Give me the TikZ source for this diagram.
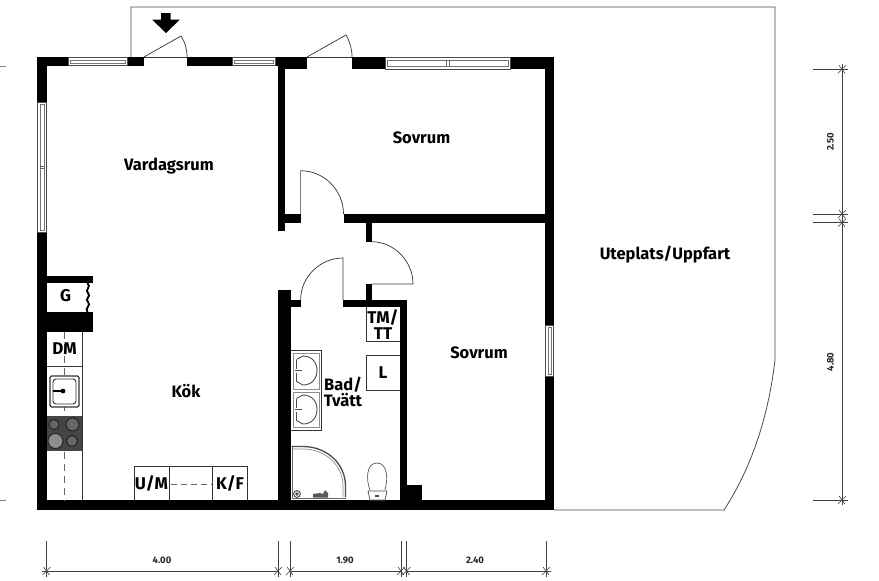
\documentclass[tikz,border=0pt]{standalone}
\usepackage{fontspec}
\setmainfont{Fira Sans}
\definecolor{hob}{gray}{0.27}
\tikzset{
  wall/.style={fill=black,draw=none},
  thin line/.style={draw=black!80,line width=0.7pt},
  outline/.style={draw=black!70,line width=0.8pt},
  room/.style={font=\fontsize{16.5}{15.5}\selectfont\bfseries,align=center,inner sep=0pt},
  unit/.style={font=\fontsize{17}{15.5}\selectfont\bfseries,align=center,inner sep=0pt},
  dimtext/.style={font=\fontsize{9.5}{10}\selectfont\bfseries,text=black!85,inner sep=0pt},
  dimline/.style={draw=black!75,line width=0.8pt},
  winframe/.style={draw=black!70,fill=white,line width=0.7pt},
  winglass/.style={draw=black!55,line width=0.6pt,fill=white},
}
\newcommand{\hwin}[4]{% x1 x2 y1 y2
  \path[winframe] (#1,#3) rectangle (#2,#4);
  \path[winglass] (#1+2,#3+2.6) rectangle (#2-2,#4-2.6);
}
\newcommand{\vwin}[4]{% x1 x2 y1 y2
  \path[winframe] (#1,#3) rectangle (#2,#4);
  \path[winglass] (#1+2.6,#3+2) rectangle (#2-2.6,#4-2);
}
\newcommand{\slashtick}[2]{\draw[dimline,line width=0.6pt] (#1-4,#2+4) -- (#1+4,#2-4) (#1-3,#2-4) -- (#1+3,#2+4);}
\begin{document}
\begin{tikzpicture}[x=1pt,y=-1pt]
\useasboundingbox[fill=white] (0,0) rectangle (879,581);

% terrace outline
\draw[outline] (131,57) -- (131,7) -- (775,7) -- (775,360)
  .. controls (768,420) and (750,470) .. (724,510) -- (554,510);

% outer walls
\path[wall] (37,57) rectangle (144,66);
\path[wall] (187,57) rectangle (307,66);
\path[wall] (278,57) rectangle (307,69);
\path[wall] (352,57) rectangle (554,69);
\path[wall] (37,57) rectangle (47,510);
\path[wall] (545,57) rectangle (554,510);
\path[wall] (37,500) rectangle (554,510);

% windows
\hwin{68}{127}{57.5}{65.5}
\hwin{232}{275}{57.5}{65.5}
\hwin{385}{510}{57.5}{69}
\draw[black!60,line width=0.6pt] (446,60) -- (446,66) (449,60) -- (449,66);
\vwin{37.5}{46.5}{102}{232}
\draw[black!60,line width=0.6pt] (40,166) -- (44,166) (40,168) -- (44,168);
\vwin{545.5}{553.5}{325}{376}

% inner walls
\path[wall] (278,66) rectangle (285,231);
\path[wall] (278,214) rectangle (300.6,223);
\path[wall] (343.5,214) rectangle (545,223);
\path[wall] (365.6,223) rectangle (371.6,242);
\path[wall] (365.6,284) rectangle (371.6,301);
\path[wall] (343,300) rectangle (406.5,307);
\path[wall] (400,300) rectangle (406.5,500);
\path[wall] (278,290) rectangle (290.5,500);
\path[wall] (278,300) rectangle (300.6,307);
\path[wall] (400,485) rectangle (422,500);

% doors
\draw[thin line] (144,57) -- (187,57);
\draw[thin line] (144,57) -- (181,36) .. controls (185,42) and (187,49) .. (187,57);
\draw[thin line] (307,57) -- (352,57);
\draw[thin line] (307,57) -- (346,35) .. controls (350,42) and (352,49) .. (352,57);
\draw[thin line] (300.6,214) -- (300.6,170.7) .. controls (324,170.7) and (343.5,190) .. (343.5,214);
\draw[thin line] (371.6,284) -- (413,284) .. controls (413,261) and (394,241.7) .. (371.6,241.7);
\draw[thin line] (343,300) -- (343,258) .. controls (320,258) and (300.6,277) .. (300.6,300);

% entry arrow
\path[fill=black] (161,13) -- (170.5,13) -- (170.5,19.5) -- (180,19.5) -- (166,33) -- (152,19.5) -- (161,19.5) -- cycle;

% G cupboard and chimney
\path[wall] (47,276) rectangle (93,283);
\path[wall] (37,312) rectangle (93,331.5);
\draw[black,line width=1.8pt] (87.5,283) .. controls (92,287) and (84,290) .. (88,293)
  .. controls (92,296) and (84,299) .. (88,302) .. controls (92,305) and (84,308) .. (87.5,312);

% kitchen
\draw[thin line] (82,331.5) -- (82,500);
\draw[thin line] (47,366) -- (82,366);
\draw[black!60,line width=0.8pt,dash pattern=on 7pt off 5pt] (64,331.5) -- (64,500);
\path[fill=hob] (47,416) rectangle (82,451);
\draw[fill=black!60,draw=black!90,line width=0.8pt] (54,424.5) circle (5);
\draw[fill=black!60,draw=black!90,line width=0.8pt] (72.5,424.5) circle (6.5);
\draw[fill=black!45,draw=black!90,line width=0.8pt] (55.5,441) circle (7.5);
\draw[fill=black!60,draw=black!90,line width=0.8pt] (72,441) circle (5.5);
% sink
\draw[black!80,line width=1.2pt,fill=white,rounded corners=1.5pt] (50,376) rectangle (79,407);
\draw[black!80,line width=0.9pt,rounded corners=3pt] (53,379) rectangle (76,404);
\draw[black,line width=1.1pt] (53,391) -- (63,391);
\path[fill=black] (63,391) circle (2.4);

% kitchen units
\draw[thin line] (134,500) -- (134,466) -- (247,466) -- (247,500);
\draw[thin line] (169,466) -- (169,500) (212.5,466) -- (212.5,500);
\draw[black!60,line width=0.8pt,dash pattern=on 6pt off 4pt] (171,484) -- (212,484);

% bathroom units
\draw[thin line] (366,307) -- (366,341.5) -- (400,341.5);
\draw[thin line] (400,355.5) -- (366,355.5) -- (366,390) -- (400,390);
\draw[thin line] (291,350.5) -- (321,350.5) -- (321,430) -- (291,430);
\draw[black!45,line width=0.6pt] (293,353) rectangle (319,389) (293,392) rectangle (319,427.5);
\foreach \cy in {370.5,409.5}{
  \draw[black!70,line width=0.9pt] (296.5,\cy-11) -- (303,\cy-14.5)
    .. controls (312,\cy-14.5) and (317,\cy-8) .. (317,\cy)
    .. controls (317,\cy+8) and (312,\cy+14.5) .. (303,\cy+14.5) -- (296.5,\cy+11);
  \draw[black!70,line width=0.8pt] (296.5,\cy-11) -- (296.5,\cy-2) (296.5,\cy+2) -- (296.5,\cy+11);
  \draw[black!70,line width=1.2pt] (295,\cy) -- (302,\cy);
}
% shower
\draw[black!60,line width=0.9pt] (292,446) -- (292,498) -- (346,498);
\draw[black!70,line width=1.3pt] (291.5,446.5) -- (303,446.5) .. controls (327,446.5) and (345.5,464) .. (345.5,486) -- (345.5,497);
\draw[black!45,line width=0.7pt] (293,449) -- (303,449) .. controls (325,449) and (343,465) .. (343,486) -- (343,497);
\draw[black!75,line width=0.9pt] (297,494) circle (3.4) (297,494) circle (1.2);
\path[fill=black!65] (313,497.5) -- (313,494) -- (320,493) -- (323,494) -- (325,490) -- (328,493) -- (328,497.5) -- cycle;
% toilet
\draw[black!65,line width=0.7pt,fill=white] (370,490) .. controls (366,480) and (366,463) .. (377,463)
  .. controls (388,463) and (388,480) .. (385,490);
\draw[black!70,line width=0.7pt,fill=white] (368,491) -- (387,491) -- (385,500) -- (370,500) -- cycle;
\path[fill=black!70] (375,495) rectangle (379,497);

% room labels
\node[room] (vardagsrum) at (169,166) {Vardagsrum};
\node[room] (sovrum1) at (421.5,138) {Sovrum};
\node[room] (sovrum2) at (479,353) {Sovrum};
\node[room] (uteplats) at (665,254.5) {Uteplats/Uppfart};
\node[room] (kok) at (186,391) {Kök};
\node[room] (bad) at (343,392) {Bad/\\Tvätt};
\node[unit] (g) at (65.5,296) {G};
\node[unit] (dm) at (64.5,348.5) {DM};
\node[unit] (um) at (151.5,484) {U/M};
\node[unit] (kf) at (230,484) {K/F};
\node[unit] (tm) at (383,324.5) {TM/\\TT};
\node[unit] (l) at (383,373) {L};

% left edge ticks
\draw[black!50,line width=0.7pt] (0,66) -- (6,66) (0,500) -- (6,500);

% bottom dimensions
\coordinate (b0) at (46.5,571); \coordinate (b1) at (278,571);
\coordinate (b2) at (290,571); \coordinate (b3) at (401,571);
\coordinate (b4) at (406.5,571); \coordinate (b5) at (546,571);
\draw[dimline] (42,571) -- (b1) (b2) -- (b3) (b4) -- (551,571);
\foreach \x in {46.5,278,290,401,406.5,546}{
  \draw[dimline] (\x,541) -- (\x,577);
  \slashtick{\x}{571}
}
\node[dimtext] (d400) at (162,560.5) {4.00};
\node[dimtext] (d190) at (345,560.5) {1.90};
\node[dimtext] (d240) at (475,560.5) {2.40};

% right dimensions
\coordinate (r0) at (842,64); \coordinate (r1) at (842,505);
\draw[dimline] (r0) -- (r1);
\foreach \y in {69.3,214,222.7,500}{
  \draw[dimline] (813,\y) -- (848,\y);
  \slashtick{842}{\y}
}
\node[dimtext,rotate=90] (d250) at (830.5,142) {2.50};
\node[dimtext,rotate=90] (d480) at (830.5,362) {4.80};
\end{tikzpicture}
\end{document}
